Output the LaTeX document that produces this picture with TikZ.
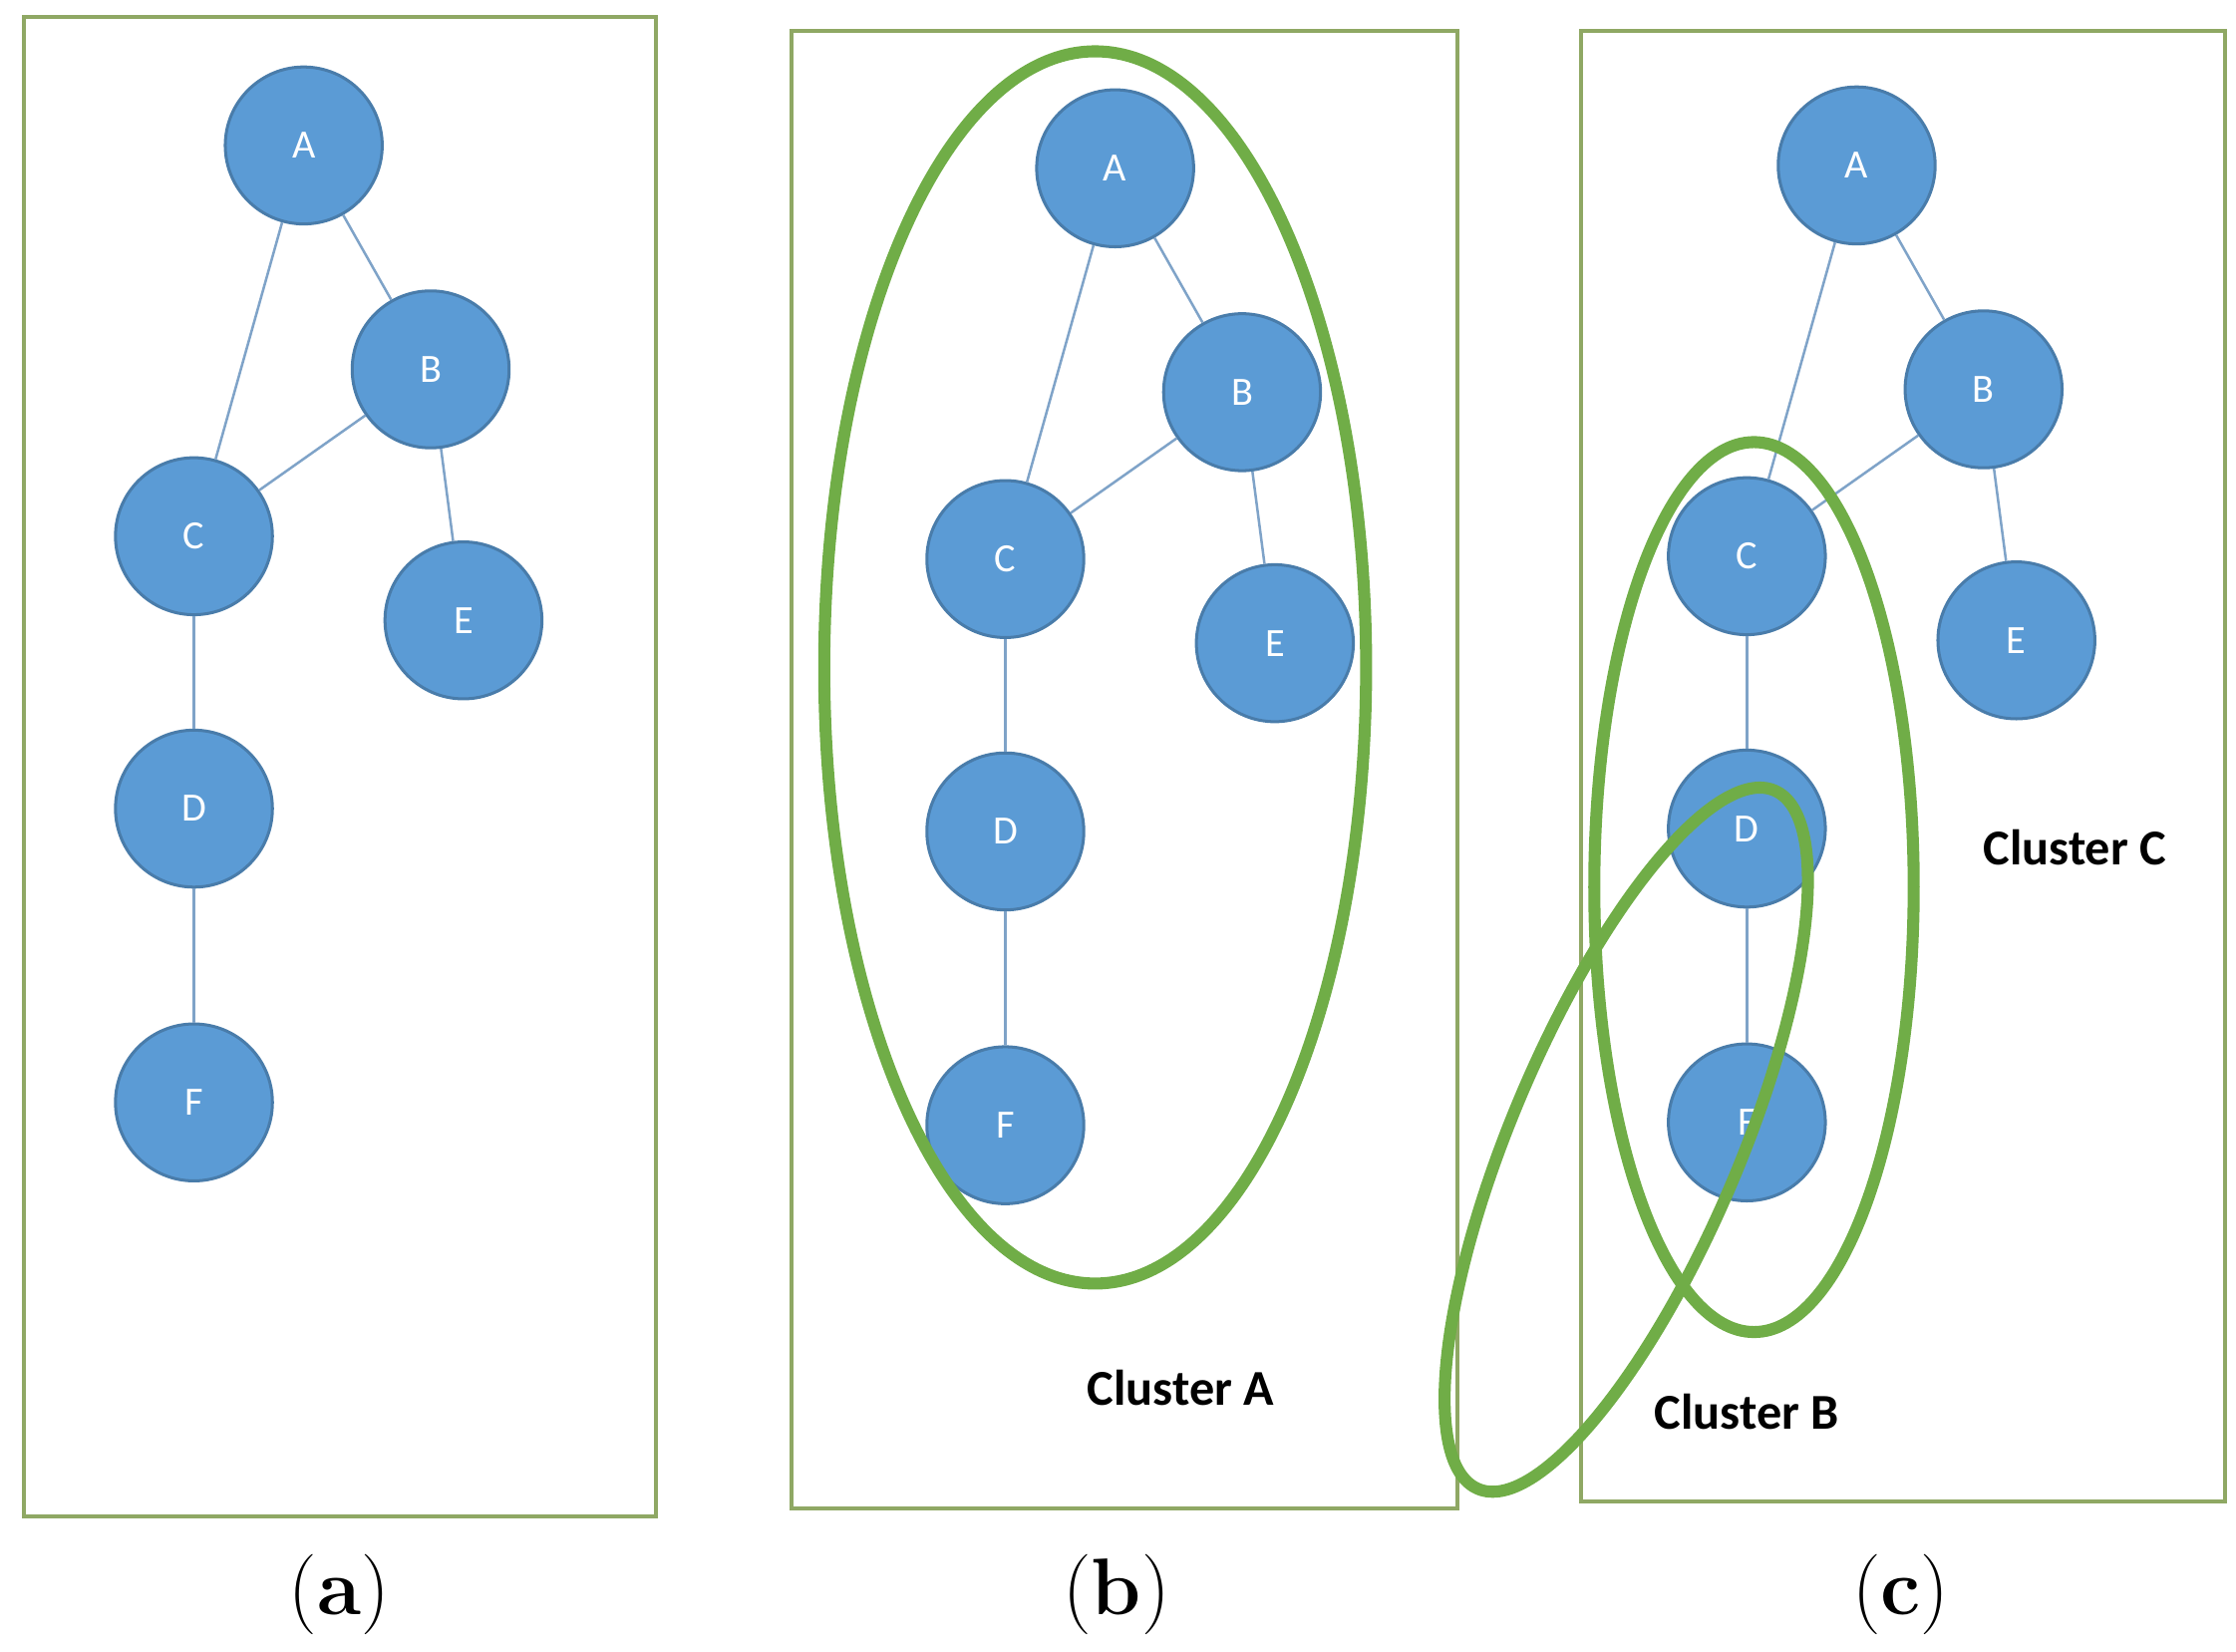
\documentclass[tikz,border=0pt]{standalone}
\usepackage{fontspec}
\setsansfont{Carlito}
\begin{document}
\begin{tikzpicture}[x=0.01cm,y=-0.01cm,
  vertex/.style={circle,fill=nodeblue,draw=nodeblue!80!black,line width=0.6pt,minimum size=1.1cm,inner sep=0pt,text=white,font=\sffamily\fontsize{8}{9}\selectfont},
  link/.style={draw=edgeblue,line width=0.5pt},
  panel/.style={draw=boxgreen,line width=0.8pt},
  cluster/.style={draw=clustgreen,line width=2.4pt},
  clabel/.style={font=\sffamily\bfseries\fontsize{10}{12}\selectfont},
  caption/.style={font=\fontsize{16}{18}\selectfont}]
\definecolor{nodeblue}{HTML}{5B9BD5}
\definecolor{edgeblue}{HTML}{7FA3C8}
\definecolor{boxgreen}{HTML}{8FA864}
\definecolor{clustgreen}{HTML}{70AD47}
\useasboundingbox (0,0) rectangle (1568,1158);
% panels
\draw[panel] (17,12) rectangle (460,1063);
\draw[panel] (555,22) rectangle (1022,1058);
\draw[panel] (1109,22) rectangle (1560,1053);
% the same graph in each panel
\foreach \p/\dx/\dy in {a/0/0, b/569/16, c/1089/14}{
  \begin{scope}[shift={(\dx,\dy)}]
    \node[vertex] (\p A) at (213,102) {A};
    \node[vertex] (\p B) at (302,259) {B};
    \node[vertex] (\p C) at (136,376) {C};
    \node[vertex] (\p E) at (325,435) {E};
    \node[vertex] (\p D) at (136,567) {D};
    \node[vertex] (\p F) at (136,773) {F};
    \draw[link] (\p A) -- (\p C);
    \draw[link] (\p A) -- (\p B);
    \draw[link] (\p B) -- (\p C);
    \draw[link] (\p B) -- (\p E);
    \draw[link] (\p C) -- (\p D);
    \draw[link] (\p D) -- (\p F);
  \end{scope}
}
% clusters
\draw[cluster] (768,468) ellipse [x radius=190, y radius=432];
\draw[cluster] (1230,622) ellipse [x radius=112, y radius=312];
\draw[cluster] (1362,290) [rotate=-23] ellipse [x radius=80, y radius=266];
\node[clabel] (labA) at (828,973) {Cluster A};
\node[clabel] (labB) at (1225,990) {Cluster B};
\node[clabel] (labC) at (1455,594) {Cluster C};
% captions
\node[caption] (capa) at (238,1118) {(\textbf{a})};
\node[caption] (capb) at (783,1118) {(\textbf{b})};
\node[caption] (capc) at (1333,1118) {(\textbf{c})};
\end{tikzpicture}
\end{document}
